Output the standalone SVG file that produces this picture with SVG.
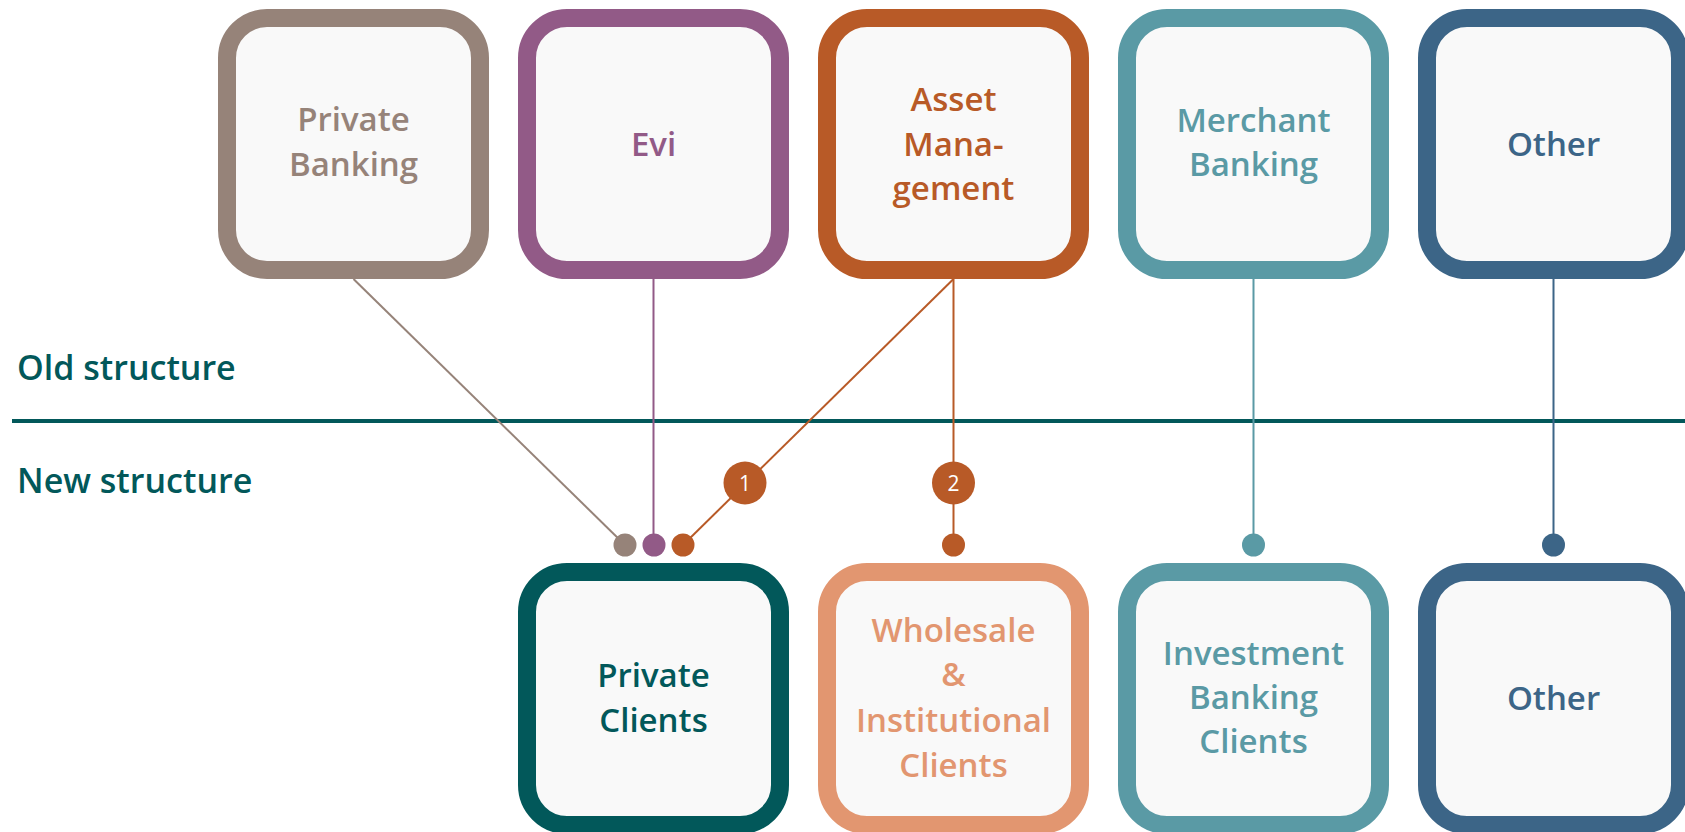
<svg xmlns="http://www.w3.org/2000/svg" width="1685" height="832" viewBox="0 0 1685 832">
<style>
.box{fill:#F9F9F9;stroke-width:18}
.lbl{font-family:"Open Sans","Noto Sans",sans-serif;font-size:33px;font-weight:600;text-anchor:middle}
.sec{font-family:"Open Sans","Noto Sans",sans-serif;font-size:34px;font-weight:600;fill:#02585A}
.ln{stroke-width:2;fill:none}
.num{font-family:"Open Sans","Noto Sans",sans-serif;font-size:21px;fill:#FFFFFF;text-anchor:middle}
</style>
<rect width="1685" height="832" fill="#FFFFFF"/>
<g id="section-labels">
<text class="sec" x="17" y="380">Old structure</text>
<line x1="12" y1="421" x2="1685" y2="421" stroke="#02585A" stroke-width="4"/>
<text class="sec" x="17" y="493">New structure</text>
</g>
<g id="connectors">
<line class="ln" x1="353.5" y1="279" x2="625" y2="545" stroke="#968379"/>
<line class="ln" x1="653.5" y1="279" x2="653.5" y2="545" stroke="#925A87"/>
<line class="ln" x1="953.5" y1="279" x2="683" y2="545" stroke="#B85A27"/>
<line class="ln" x1="953.5" y1="279" x2="953.5" y2="545" stroke="#B85A27"/>
<line class="ln" x1="1253.5" y1="279" x2="1253.5" y2="545" stroke="#5A9AA5"/>
<line class="ln" x1="1553.5" y1="279" x2="1553.5" y2="545" stroke="#3C6587"/>
<circle cx="625" cy="545" r="11.5" fill="#968379"/>
<circle cx="654" cy="545" r="11.5" fill="#925A87"/>
<circle cx="683" cy="545" r="11.5" fill="#B85A27"/>
<circle cx="953.5" cy="545" r="11.5" fill="#B85A27"/>
<circle cx="1253.5" cy="545" r="11.5" fill="#5A9AA5"/>
<circle cx="1553.5" cy="545" r="11.5" fill="#3C6587"/>
<g id="badge-1"><circle cx="745" cy="483" r="21.5" fill="#B85A27"/><text class="num" x="745" y="490.5">1</text></g>
<g id="badge-2"><circle cx="953.5" cy="483" r="21.5" fill="#B85A27"/><text class="num" x="953.5" y="490.5">2</text></g>
</g>
<g id="old-private-banking">
<rect class="box" x="227" y="18" width="253" height="252" rx="40" stroke="#968379"/>
<text class="lbl" fill="#968379" x="353.5" y="131">Private</text>
<text class="lbl" fill="#968379" x="353.5" y="176">Banking</text>
</g>
<g id="old-evi">
<rect class="box" x="527" y="18" width="253" height="252" rx="40" stroke="#925A87"/>
<text class="lbl" fill="#925A87" x="653.5" y="155.5">Evi</text>
</g>
<g id="old-asset-management">
<rect class="box" x="827" y="18" width="253" height="252" rx="40" stroke="#B85A27"/>
<text class="lbl" fill="#B85A27" x="953.5" y="111">Asset</text>
<text class="lbl" fill="#B85A27" x="953.5" y="155.5">Mana-</text>
<text class="lbl" fill="#B85A27" x="953.5" y="200">gement</text>
</g>
<g id="old-merchant-banking">
<rect class="box" x="1127" y="18" width="253" height="252" rx="40" stroke="#5A9AA5"/>
<text class="lbl" fill="#5A9AA5" x="1253.5" y="132">Merchant</text>
<text class="lbl" fill="#5A9AA5" x="1253.5" y="176">Banking</text>
</g>
<g id="old-other">
<rect class="box" x="1427" y="18" width="253" height="252" rx="40" stroke="#3C6587"/>
<text class="lbl" fill="#3C6587" x="1553.5" y="155.5">Other</text>
</g>
<g id="new-private-clients">
<rect class="box" x="527" y="572" width="253" height="253" rx="40" stroke="#02585A"/>
<text class="lbl" fill="#02585A" x="653.5" y="687">Private</text>
<text class="lbl" fill="#02585A" x="653.5" y="732">Clients</text>
</g>
<g id="new-wholesale-institutional">
<rect class="box" x="827" y="572" width="253" height="253" rx="40" stroke="#E29670"/>
<text class="lbl" fill="#E29670" x="953.5" y="642">Wholesale</text>
<text class="lbl" fill="#E29670" x="953.5" y="686">&amp;</text>
<text class="lbl" fill="#E29670" x="953.5" y="732">Institutional</text>
<text class="lbl" fill="#E29670" x="953.5" y="777">Clients</text>
</g>
<g id="new-investment-banking">
<rect class="box" x="1127" y="572" width="253" height="253" rx="40" stroke="#5A9AA5"/>
<text class="lbl" fill="#5A9AA5" x="1253.5" y="665">Investment</text>
<text class="lbl" fill="#5A9AA5" x="1253.5" y="709">Banking</text>
<text class="lbl" fill="#5A9AA5" x="1253.5" y="753">Clients</text>
</g>
<g id="new-other">
<rect class="box" x="1427" y="572" width="253" height="253" rx="40" stroke="#3C6587"/>
<text class="lbl" fill="#3C6587" x="1553.5" y="710">Other</text>
</g>
</svg>
